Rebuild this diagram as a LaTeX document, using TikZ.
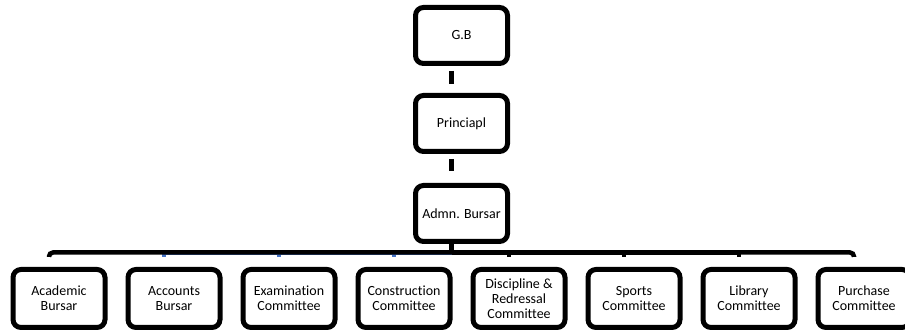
\documentclass[tikz,border=0pt]{standalone}
\usepackage{fontspec}
\setmainfont{Carlito}[Ligatures=NoCommon]
\usetikzlibrary{positioning}
\definecolor{tickblue}{HTML}{4472C4}

\begin{document}
\begin{tikzpicture}[
		x=1pt, y=1pt,
		node distance=18pt,
		box/.style={draw, line width=5pt, rounded corners=8pt, minimum width=92pt, minimum height=56pt, align=center, font=\fontsize{14}{15}\selectfont},
		unit/.style={box, minimum height=58pt},
		link/.style={line width=4.5pt},
	]
	\useasboundingbox (0,0) rectangle (905,331);
	\node (gb) [box] at (461.5,295.5) {G.B};
	\node (pr) [box, below=27pt of gb] {Princiapl};
	\node (admn) [box, below=29pt of pr] {Admn. Bursar};
	\coordinate[below=8.5pt of admn.south] (bus);
	
	\node (acad) [unit] at (59,32.5) {Academic\\Bursar};
	\node (acc) [unit, right=of acad] {Accounts\\Bursar};
	\node (exam) [unit, right=of acc] {Examination\\Committee};
	\node (cons) [unit, right=of exam] {Construction\\Committee};
	\node (disc) [unit, right=of cons] {Discipline \&\\Redressal\\Committee};
	\node (sport) [unit, right=of disc] {Sports\\Committee};
	\node (lib) [unit, right=of sport] {Library\\Committee};
	\node (purch) [unit, right=of lib] {Purchase\\Committee};
	
	\draw[link, shorten <=5pt, shorten >=9pt] ([xshift=-10pt]gb.south) -- ([xshift=-10pt]pr.north);
	\draw[link, shorten <=5pt, shorten >=12pt] ([xshift=-10pt]pr.south) -- ([xshift=-10pt]admn.north);
	\draw[link] ([xshift=-10pt]admn.south) -- ([xshift=-10pt]bus);
	\foreach \n in {acc, exam, cons}
		\draw[link, tickblue, shorten <=10pt] ([xshift=-10pt]\n.north) |- ([xshift=-10pt]bus);
	\foreach \n in {disc, sport, lib}
		\draw[link, shorten <=10pt] ([xshift=-10pt]\n.north) |- ([xshift=-10pt]bus);
	\draw[link, rounded corners=4pt, shorten <=10pt, shorten >=10pt] ([xshift=-10pt]acad.north) |- ([xshift=-10pt]bus) -| ([xshift=-10pt]purch.north);
\end{tikzpicture}
\end{document}
